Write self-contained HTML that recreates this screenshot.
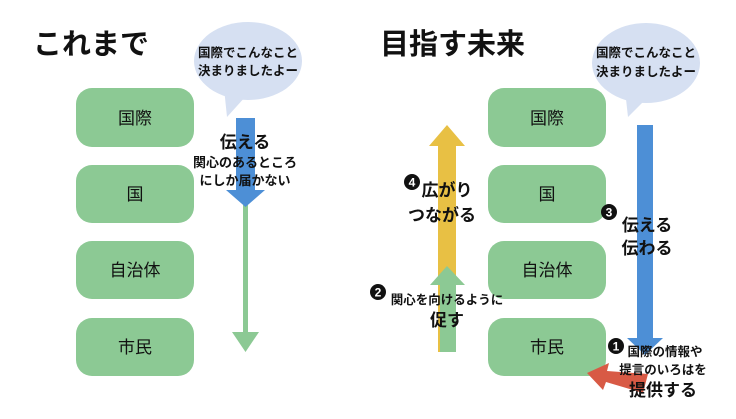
<!DOCTYPE html>
<html><head><meta charset="utf-8"><style>
html,body{margin:0;padding:0;background:#fff;}
svg text{font-family:"Liberation Sans","Noto Sans CJK JP",sans-serif;font-weight:bold;fill:#111;}
</style></head><body>
<svg width="736" height="414" viewBox="0 0 736 414" xmlns="http://www.w3.org/2000/svg">
<rect width="736" height="414" fill="#fff"/>
<text x="33" y="54" font-size="29">これまで</text>
<text x="380" y="54" font-size="29">目指す未来</text>
<g fill="#8cc994">
<rect x="76" y="88" width="118" height="59" rx="16"/>
<rect x="76" y="165" width="118" height="58" rx="16"/>
<rect x="76" y="241" width="118" height="58" rx="16"/>
<rect x="76" y="318" width="118" height="58" rx="16"/>
<rect x="488" y="88" width="118" height="59" rx="16"/>
<rect x="488" y="165" width="118" height="58" rx="16"/>
<rect x="488" y="241" width="118" height="58" rx="16"/>
<rect x="488" y="318" width="118" height="58" rx="16"/>
</g>
<g font-size="17" text-anchor="middle">
<text x="135" y="124" style="font-weight:normal">国際</text>
<text x="135" y="200" style="font-weight:normal">国</text>
<text x="135" y="276" style="font-weight:normal">自治体</text>
<text x="135" y="353" style="font-weight:normal">市民</text>
<text x="547" y="124" style="font-weight:normal">国際</text>
<text x="547" y="200" style="font-weight:normal">国</text>
<text x="547" y="276" style="font-weight:normal">自治体</text>
<text x="547" y="353" style="font-weight:normal">市民</text>
</g>
<!-- bubbles -->
<g fill="#d6e0f2">
<ellipse cx="248" cy="61" rx="54" ry="39"/>
<polygon points="224,88 246,96 227,117"/>
<ellipse cx="646" cy="63" rx="54" ry="40"/>
<polygon points="625,90 648,97 628,117"/>
</g>
<g font-size="12.5" text-anchor="middle">
<text x="248" y="57">国際でこんなこと</text>
<text x="248" y="75">決まりましたよー</text>
<text x="646" y="57">国際でこんなこと</text>
<text x="646" y="76">決まりましたよー</text>
</g>
<!-- left arrows -->
<rect x="243" y="205" width="5" height="132" fill="#8cc994"/>
<polygon points="232,332 259,332 245.5,352" fill="#8cc994"/>
<polygon points="236,118 255,118 255,190 265,190 245.5,207 226,190 236,190" fill="#4d8fd6"/>
<text x="245" y="148" font-size="17" text-anchor="middle">伝える</text>
<text x="245" y="167" font-size="13" text-anchor="middle">関心のあるところ</text>
<text x="245" y="185" font-size="13" text-anchor="middle">にしか届かない</text>
<!-- right arrows -->
<polygon points="438,146 429,146 447,125 465,146 456,146 456,352 438,352" fill="#e8c044"/>
<polygon points="440,285 430,285 447,266 465,285 456,285 456,352 440,352" fill="#8cc994"/>
<polygon points="637,125 653,125 653,338 663,338 645,355 627,338 637,338" fill="#4d8fd6"/>
<polygon points="648,374 643,393 606,382 603,390 587,373 609,363 607,371" fill="#d85a45"/>
<!-- numbers -->
<g>
<circle cx="412" cy="182" r="8" fill="#111"/><text x="412" y="186.5" font-size="12" text-anchor="middle" style="fill:#fff">4</text>
<circle cx="378" cy="292" r="8" fill="#111"/><text x="378" y="296.5" font-size="12" text-anchor="middle" style="fill:#fff">2</text>
<circle cx="609" cy="212" r="8" fill="#111"/><text x="609" y="216.5" font-size="12" text-anchor="middle" style="fill:#fff">3</text>
<circle cx="616" cy="346" r="8" fill="#111"/><text x="616" y="350.5" font-size="12" text-anchor="middle" style="fill:#fff">1</text>
</g>
<text x="447" y="196" font-size="17" text-anchor="middle">広がり</text>
<text x="442" y="221" font-size="17" text-anchor="middle">つながる</text>
<text x="447" y="304" font-size="12.5" text-anchor="middle">関心を向けるように</text>
<text x="447" y="326" font-size="17" text-anchor="middle">促す</text>
<text x="647" y="231" font-size="17" text-anchor="middle">伝える</text>
<text x="647" y="254" font-size="17" text-anchor="middle">伝わる</text>
<text x="665" y="356" font-size="12.5" text-anchor="middle">国際の情報や</text>
<text x="663" y="374" font-size="12.5" text-anchor="middle">提言のいろはを</text>
<text x="663" y="396" font-size="17" text-anchor="middle">提供する</text>
</svg>
</body></html>
